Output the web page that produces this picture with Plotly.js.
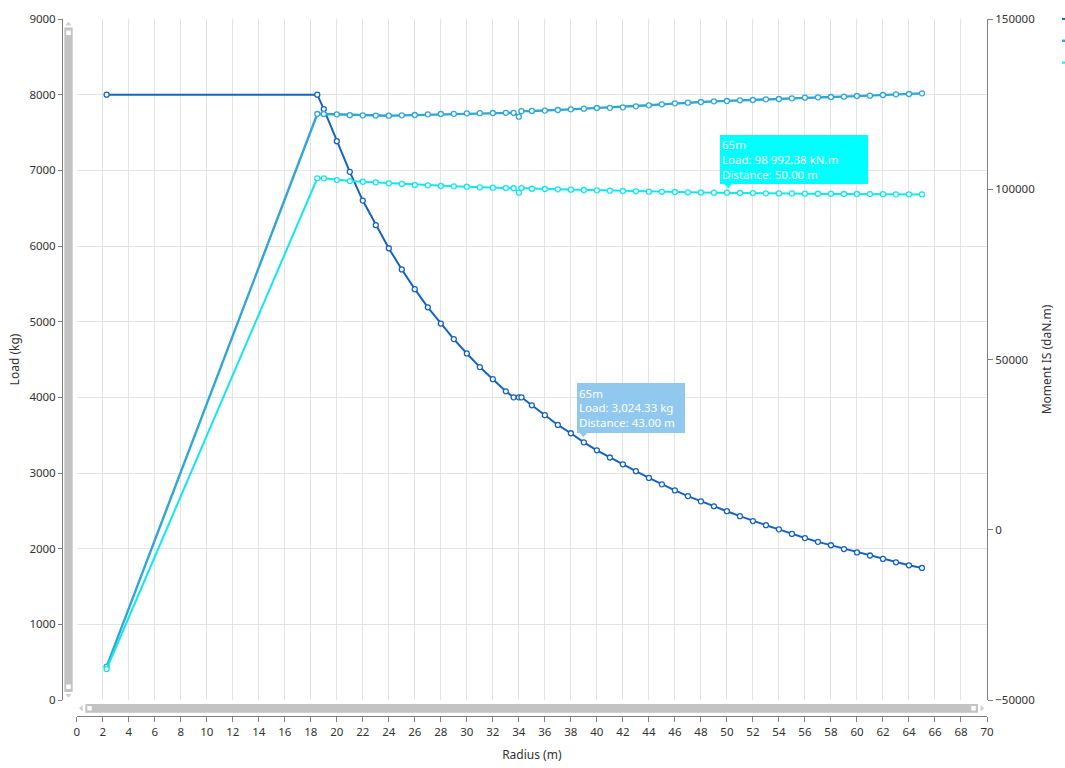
<!DOCTYPE html>
<html>
<head>
<meta charset="utf-8">
<script src="https://cdn.plot.ly/plotly-3.0.1.min.js"></script>
<style>
html,body{margin:0;padding:0;background:#fff;}
#chart{width:1065px;height:768px;}
</style>
</head>
<body>
<div id="chart"></div>
<script>
// ---- Data ----
const radius = [2.3, 18.5, 19, 20, 21, 22, 23, 24, 25, 26, 27, 28, 29, 30, 31, 32, 33, 33.6, 34, 34.2,
  35, 36, 37, 38, 39, 40, 41, 42, 43, 44, 45, 46, 47, 48, 49, 50, 51, 52, 53, 54, 55, 56, 57, 58, 59, 60,
  61, 62, 63, 64, 65];

const loadKg = [8000, 8000, 7810, 7385, 6980, 6600, 6275, 5970, 5690, 5430, 5190, 4975, 4770, 4580, 4400, 4240, 4080, 4000, 4000, 4000,
  3895, 3765, 3635, 3525, 3405, 3300, 3205, 3115, 3024, 2935, 2850, 2770, 2695, 2625, 2560, 2495, 2430, 2365, 2310, 2255, 2195, 2140, 2090, 2045, 1995, 1950,
  1910, 1865, 1820, 1780, 1745];

const momentIS = [-40200, 122100, 122100, 122000, 121750, 121700, 121650, 121600, 121700, 121800, 122000, 122100, 122150, 122300, 122350, 122400, 122450, 122450, 121300, 122950,
  123000, 123100, 123280, 123470, 123670, 123860, 123900, 124060, 124350, 124650, 124940, 125230, 125430, 125630, 125820, 125920, 126120, 126210, 126410, 126510, 126700, 126900, 127000, 127090, 127190, 127390,
  127490, 127680, 127880, 127970, 128170];

const moment = [-40900, 103200, 103200, 102700, 102400, 102200, 102000, 101750, 101550, 101250, 101150, 100950, 100850, 100750, 100550, 100450, 100350, 100300, 99000, 100350,
  100150, 100070, 99980, 99880, 99780, 99680, 99590, 99490, 99390, 99290, 99250, 99190, 99100, 99060, 99000, 98992, 98900, 98880, 98800, 98780, 98760, 98700, 98680, 98660, 98610, 98600,
  98580, 98560, 98510, 98500, 98480];

const seriesNames = ['65m Load', '65m Moment IS', '65m Moment'];
const xTitle = 'Radius (m)';
const yTitle = 'Load (kg)';
const y2Title = 'Moment IS (daN.m)';
const tipLoad = ['65m', 'Load: 3,024.33 kg', 'Distance: 43.00 m'];
const tipMoment = ['65m', 'Load: 98 992,38 kN.m', 'Distance: 50.00 m'];

// ---- Styling / layout helpers ----
const C_LOAD = '#1762c0', C_MIS = '#2ea6d6', C_MOM = '#12e6f0';
const FONT = 'Noto Sans, Open Sans, sans-serif';
const PL = 62, PR = 987, PT = 19, PB = 716;
const fx = px => (px - PL) / (PR - PL);
const fy = py => (PB - py) / (PB - PT);

function mk(color) {
  return { symbol: 'circle', size: 5, color: '#ffffff', line: { color: color, width: 1.3 } };
}

const traces = [
  { x: radius, y: loadKg, name: seriesNames[0], type: 'scatter', mode: 'lines+markers',
    line: { color: C_LOAD, width: 2 }, marker: mk(C_LOAD), xaxis: 'x', yaxis: 'y' },
  { x: radius, y: momentIS, name: seriesNames[1], type: 'scatter', mode: 'lines+markers',
    line: { color: C_MIS, width: 2.4 }, marker: mk(C_MIS), xaxis: 'x', yaxis: 'y2' },
  { x: radius, y: moment, name: seriesNames[2], type: 'scatter', mode: 'lines+markers',
    line: { color: C_MOM, width: 2 }, marker: mk(C_MOM), xaxis: 'x', yaxis: 'y2' }
];

function rect(x0, y0, x1, y1, color) {
  return { type: 'rect', xref: 'paper', yref: 'paper', x0: fx(x0), x1: fx(x1), y0: fy(y0), y1: fy(y1),
    fillcolor: color, line: { width: 0 }, layer: 'above' };
}
function tri(pts, color) {
  const d = 'M' + pts.map(p => fx(p[0]) + ',' + fy(p[1])).join(' L') + ' Z';
  return { type: 'path', xref: 'paper', yref: 'paper', path: d, fillcolor: color, line: { width: 0 }, layer: 'above' };
}
function pointer(xv, yv, yref, color) {
  return { type: 'path', xref: 'x', yref: yref, xsizemode: 'pixel', ysizemode: 'pixel',
    xanchor: xv, yanchor: yv, path: 'M-4,0.5 L4,0.5 L0,-4 Z', fillcolor: color, line: { width: 0 }, layer: 'above' };
}

const SB = '#c3c3c3', AR = '#cfcfcf';
const shapes = [
  // vertical scrollbar
  rect(64.3, 27.5, 72.7, 692, SB),
  rect(66.2, 30.5, 70.8, 35, '#ffffff'),
  rect(66.2, 684.5, 70.8, 689, '#ffffff'),
  tri([[65.3, 25.5], [71.7, 25.5], [68.5, 21.8]], AR),
  tri([[65.3, 694], [71.7, 694], [68.5, 697.8]], AR),
  // horizontal scrollbar
  rect(85.3, 704, 978, 712.7, SB),
  rect(87.3, 706, 91.7, 710.5, '#ffffff'),
  rect(971.3, 706, 975.7, 710.5, '#ffffff'),
  tri([[82.7, 705], [82.7, 711.5], [79, 708.3]], AR),
  tri([[980.5, 705], [980.5, 711.5], [984.2, 708.3]], AR),
  // tooltip pointers
  pointer(38.96, 3525, 'y', '#90c8ee'),
  pointer(50.1, 101454, 'y2', '#00ffff')
];

const annotations = [
  { xref: 'x', yref: 'y', x: 38.47, y: 4189, xanchor: 'left', yanchor: 'top',
    text: tipLoad.join('<br>'), showarrow: false, align: 'left', valign: 'middle',
    bgcolor: '#90c8ee', borderpad: 2, borderwidth: 0, width: 104, height: 46,
    font: { family: FONT, size: 11.5, color: '#ffffff' } },
  { xref: 'x', yref: 'y2', x: 49.43, y: 115933, xanchor: 'left', yanchor: 'top',
    text: tipMoment.join('<br>'), showarrow: false, align: 'left', valign: 'middle',
    bgcolor: '#00ffff', borderpad: 2, borderwidth: 0, width: 144, height: 45,
    font: { family: FONT, size: 11.5, color: '#ffffff' } }
];

const axisCommon = {
  showline: true, linecolor: '#808080', linewidth: 1,
  ticks: 'outside', tickcolor: '#808080', ticklen: 5, tickwidth: 1,
  tickfont: { family: FONT, size: 11.5, color: '#333333' },
  zeroline: false, exponentformat: 'none', separatethousands: false
};

const layout = {
  width: 1065, height: 768,
  paper_bgcolor: '#ffffff', plot_bgcolor: '#ffffff',
  margin: { l: PL, r: 1065 - PR, t: PT, b: 768 - PB, autoexpand: false },
  font: { family: FONT, size: 12, color: '#333333' },
  showlegend: true,
  legend: { x: fx(1057), xanchor: 'left', y: fy(3), yanchor: 'top', bgcolor: 'rgba(0,0,0,0)',
    borderwidth: 0, font: { family: FONT, size: 14.5, color: '#333333' } },
  xaxis: Object.assign({}, axisCommon, {
    domain: [(76.7 - PL) / (PR - PL), 1],
    anchor: 'free', position: 0,
    range: [0, 70], tick0: 0, dtick: 2,
    showgrid: true, gridcolor: '#e3e3e3', gridwidth: 1,
    title: { text: xTitle, font: { family: FONT, size: 12, color: '#333333' }, standoff: 12 }
  }),
  yaxis: Object.assign({}, axisCommon, {
    domain: [(PB - 700) / (PB - PT), 1],
    anchor: 'free', position: 0,
    range: [0, 9000], tick0: 0, dtick: 1000, ticklen: 4, tickformat: 'd',
    showgrid: true, gridcolor: '#e3e3e3', gridwidth: 1,
    title: { text: yTitle, font: { family: FONT, size: 12, color: '#333333' }, standoff: 6 }
  }),
  yaxis2: Object.assign({}, axisCommon, {
    overlaying: 'y', side: 'right', anchor: 'x',
    range: [-50000, 150000], tick0: -50000, dtick: 50000, tickformat: 'd',
    showgrid: false,
    title: { text: y2Title, font: { family: FONT, size: 12, color: '#333333' }, standoff: 8 }
  }),
  shapes: shapes,
  annotations: annotations,
  hovermode: false
};

Plotly.newPlot('chart', traces, layout, { displayModeBar: false, staticPlot: true });
</script>
</body>
</html>
